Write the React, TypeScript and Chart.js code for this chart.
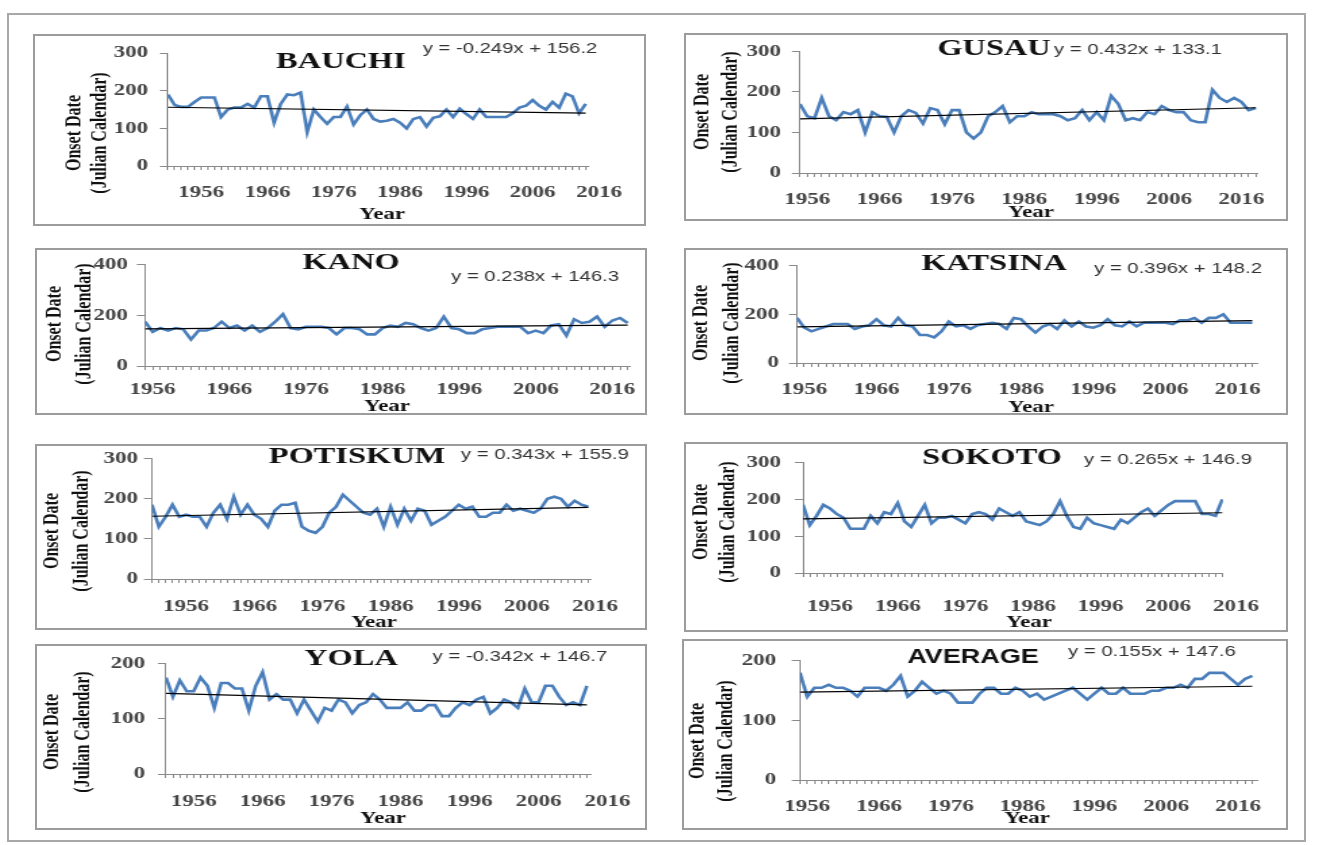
import React, { useEffect, useRef } from 'react';
import { Chart, registerables } from 'chart.js';

Chart.register(...registerables);

// ---------------- data ----------------
const STATIONS = ['BAUCHI', 'GUSAU', 'KANO', 'KATSINA', 'POTISKUM', 'SOKOTO', 'YOLA', 'AVERAGE'];
const FIRST_YEARS = [1951, 1955, 1955, 1955, 1951, 1952, 1952, 1955];
const TREND_SLOPES = [-0.249, 0.432, 0.238, 0.396, 0.343, 0.265, -0.342, 0.155];
const TREND_INTERCEPTS = [156.2, 133.1, 146.3, 148.2, 155.9, 146.9, 146.7, 147.6];
const Y_MAX = [300, 300, 400, 400, 300, 300, 200, 200];
const Y_STEP = [100, 100, 200, 200, 100, 100, 100, 100];
const X_LABEL_YEARS = [1956, 1966, 1976, 1986, 1996, 2006, 2016];
const Y_TITLE_LINES = ['Onset Date', '(Julian Calendar)'];
const X_TITLE = 'Year';

const bauchi = [190, 162, 157, 157, 170, 182, 182, 182, 130, 150, 155, 155, 165, 155, 185, 185, 115, 165, 190, 188, 195, 90, 150, 130, 112, 130, 130, 158, 110, 135, 150, 125, 118, 120, 125, 115, 100, 125, 130, 105, 128, 132, 150, 130, 152, 138, 125, 150, 130, 130, 130, 130, 140, 155, 160, 175, 160, 150, 170, 155, 192, 185, 140, 165];
const gusau = [170, 140, 135, 185, 140, 130, 150, 145, 155, 100, 150, 140, 138, 100, 140, 155, 148, 122, 160, 155, 120, 155, 155, 100, 85, 100, 140, 150, 165, 125, 140, 140, 150, 145, 145, 145, 140, 130, 135, 155, 130, 150, 130, 190, 170, 130, 135, 130, 150, 145, 165, 155, 150, 150, 130, 125, 125, 205, 185, 175, 185, 175, 155, 160];
const kano = [175, 135, 150, 140, 150, 145, 105, 140, 140, 150, 175, 150, 160, 140, 160, 135, 150, 175, 205, 150, 145, 155, 155, 155, 150, 125, 150, 150, 145, 125, 125, 150, 160, 155, 170, 165, 150, 140, 150, 195, 150, 145, 130, 130, 145, 150, 155, 155, 155, 155, 130, 140, 130, 160, 165, 120, 185, 170, 175, 195, 155, 180, 190, 170];
const katsina = [185, 145, 130, 140, 150, 160, 160, 160, 140, 150, 155, 180, 155, 150, 185, 155, 150, 115, 115, 105, 130, 170, 150, 155, 140, 155, 160, 165, 160, 140, 185, 180, 150, 125, 150, 160, 140, 175, 150, 170, 150, 145, 155, 180, 155, 150, 170, 150, 165, 165, 165, 165, 160, 175, 175, 185, 165, 185, 185, 200, 165, 165, 165, 165];
const potiskum = [185, 130, 155, 185, 155, 160, 155, 155, 130, 165, 185, 150, 205, 160, 185, 160, 150, 130, 170, 185, 185, 190, 130, 120, 115, 130, 165, 180, 210, 195, 180, 165, 160, 175, 130, 180, 135, 175, 145, 175, 170, 135, 145, 155, 170, 185, 175, 180, 155, 155, 165, 165, 185, 170, 175, 170, 165, 175, 200, 205, 200, 180, 195, 185, 180];
const sokoto = [185, 130, 155, 185, 175, 160, 150, 120, 120, 120, 155, 135, 165, 160, 190, 140, 125, 155, 185, 135, 150, 150, 155, 145, 135, 160, 165, 160, 145, 175, 165, 155, 165, 140, 135, 130, 140, 160, 195, 155, 125, 120, 150, 135, 130, 125, 120, 145, 135, 150, 165, 175, 155, 170, 185, 195, 195, 195, 195, 160, 160, 155, 200];
const yola = [175, 140, 170, 150, 150, 175, 160, 120, 165, 165, 155, 155, 115, 160, 185, 135, 145, 135, 135, 110, 135, 115, 95, 120, 115, 135, 130, 110, 125, 130, 145, 135, 120, 120, 120, 130, 115, 115, 125, 125, 105, 105, 120, 130, 125, 135, 140, 110, 120, 135, 130, 120, 155, 130, 130, 160, 160, 140, 125, 130, 125, 160];
const average = [180, 140, 155, 155, 160, 155, 155, 150, 140, 155, 155, 155, 150, 160, 175, 140, 150, 165, 155, 145, 150, 145, 130, 130, 130, 145, 155, 155, 145, 145, 155, 150, 140, 145, 135, 140, 145, 150, 155, 145, 135, 145, 155, 145, 145, 155, 145, 145, 145, 150, 150, 155, 155, 160, 155, 170, 170, 180, 180, 180, 170, 160, 170, 175];
const SERIES = [bauchi, gusau, kano, katsina, potiskum, sokoto, yola, average];

// ---------------- layout & style (page pixels) ----------------
const STRETCH = 1.35;
const BLUE = '#4a7ebb';
const AXIS = '#8a8a8a';
const TICK_TEXT = '#454545';

type Layout = {
  box: [number, number, number, number];
  axisL: number; axisR: number; plotTop: number; plotBottom: number; xMax: number;
  yLabelGap: number; xLabelGap: number;
  title: [number, number]; eq: [number, number];
  yTitleX: [number, number]; yTitleY: number; year: [number, number];
  titleFont: string;
};

const SERIF_TITLE = 'bold 24px "Liberation Serif"';
const LAYOUTS: Layout[] = [
  { box: [33, 34, 646, 226], axisL: 168, axisR: 589, plotTop: 52, plotBottom: 166, xMax: 2014.5, yLabelGap: 20, xLabelGap: 27, title: [341, 62], eq: [510, 49], yTitleX: [75, 100], yTitleY: 133, year: [382, 215], titleFont: SERIF_TITLE },
  { box: [684, 33, 1288, 221], axisL: 800, axisR: 1258, plotTop: 41, plotBottom: 173, xMax: 2018.3, yLabelGap: 19, xLabelGap: 27, title: [994, 49], eq: [1138, 50], yTitleX: [703, 731], yTitleY: 112, year: [1031, 213], titleFont: SERIF_TITLE },
  { box: [35, 248, 647, 415], axisL: 145, axisR: 630, plotTop: 256, plotBottom: 366, xMax: 2018.3, yLabelGap: 17, xLabelGap: 24, title: [351, 263], eq: [535, 277], yTitleX: [55, 85], yTitleY: 324, year: [387, 407], titleFont: SERIF_TITLE },
  { box: [684, 248, 1288, 415], axisL: 797, axisR: 1258, plotTop: 256, plotBottom: 363, xMax: 2018.8, yLabelGap: 18, xLabelGap: 27, title: [994, 264], eq: [1178, 269], yTitleX: [701, 732], yTitleY: 323, year: [1031, 408], titleFont: SERIF_TITLE },
  { box: [35, 444, 647, 630], axisL: 152, axisR: 591, plotTop: 450, plotBottom: 579, xMax: 2015.4, yLabelGap: 14, xLabelGap: 28, title: [357, 457], eq: [545, 455], yTitleX: [53, 82], yTitleY: 531, year: [374, 623], titleFont: SERIF_TITLE },
  { box: [684, 442, 1288, 632], axisL: 803, axisR: 1223, plotTop: 450, plotBottom: 573, xMax: 2014.1, yLabelGap: 22, xLabelGap: 34, title: [992, 458], eq: [1168, 460], yTitleX: [701, 729], yTitleY: 522, year: [1029, 623], titleFont: SERIF_TITLE },
  { box: [35, 644, 647, 830], axisL: 166, axisR: 591, plotTop: 650, plotBottom: 774, xMax: 2013.6, yLabelGap: 21, xLabelGap: 28, title: [351, 659], eq: [520, 657], yTitleX: [53, 83], yTitleY: 732, year: [383, 819], titleFont: SERIF_TITLE },
  { box: [682, 639, 1288, 830], axisL: 800, axisR: 1257, plotTop: 659, plotBottom: 780, xMax: 2018.65, yLabelGap: 24, xLabelGap: 27, title: [973, 657], eq: [1152, 652], yTitleX: [698, 727], yTitleY: 741, year: [1027, 819], titleFont: 'bold 20px "Liberation Sans"' },
];

function equationText(i: number) {
  return `y = ${TREND_SLOPES[i].toFixed(3)}x + ${TREND_INTERCEPTS[i].toFixed(1)}`;
}

function Panel({ idx }: { idx: number }) {
  const ref = useRef<HTMLCanvasElement>(null);
  const L = LAYOUTS[idx];
  const [l, t, r, b] = L.box;
  const cw = Math.round((r - l) / STRETCH);
  const ch = b - t;
  const sx = (r - l) / cw;

  useEffect(() => {
    const values = SERIES[idx];
    const first = FIRST_YEARS[idx];
    const n = values.length;
    const points = values.map((v, i) => ({ x: first + i, y: v }));
    const slope = TREND_SLOPES[idx];
    const icpt = TREND_INTERCEPTS[idx];
    const trend = [
      { x: first, y: slope * 1 + icpt },
      { x: first + n - 1, y: slope * n + icpt },
    ];
    const xMin = first;
    const xMax = L.xMax;
    const px = (X: number) => (X - l) / sx;
    const py = (Y: number) => Y - t;
    const tickFont = { family: '"Liberation Serif"', size: 17, weight: 'bold' as const };

    const textPlugin = {
      id: 'panelText',
      afterDraw(chart: any) {
        const c = chart.ctx as CanvasRenderingContext2D;
        c.save();
        c.textAlign = 'center';
        c.textBaseline = 'middle';
        c.fillStyle = '#111';
        c.font = L.titleFont;
        c.fillText(STATIONS[idx], px(L.title[0]), py(L.title[1]));
        c.fillStyle = '#333';
        c.font = '15px "Liberation Sans"';
        c.fillText(equationText(idx), px(L.eq[0]), py(L.eq[1]));
        c.fillStyle = '#111';
        c.font = 'bold 17px "Liberation Serif"';
        c.fillText(X_TITLE, px(L.year[0]), py(L.year[1]));
        c.font = 'bold 16px "Liberation Serif"';
        Y_TITLE_LINES.forEach((line, k) => {
          c.save();
          c.translate(px(L.yTitleX[k]), py(L.yTitleY));
          c.rotate(-Math.PI / 2);
          c.fillText(line, 0, 0);
          c.restore();
        });
        c.restore();
      },
    };

    const chart = new Chart(ref.current as HTMLCanvasElement, {
      type: 'line',
      data: {
        datasets: [
          { data: points, borderColor: BLUE, backgroundColor: BLUE, borderWidth: 2.6, pointRadius: 0, tension: 0, fill: false, order: 2 },
          { data: trend, borderColor: '#000', backgroundColor: '#000', borderWidth: 1.2, pointRadius: 0, fill: false, order: 1 },
        ],
      },
      options: {
        responsive: false,
        maintainAspectRatio: false,
        animation: false,
        events: [],
        layout: {
          autoPadding: false,
          padding: { left: 0, top: L.plotTop - t, right: (r - L.axisR) / sx, bottom: 0 },
        },
        plugins: { legend: { display: false }, tooltip: { enabled: false }, title: { display: false } },
        scales: {
          x: {
            type: 'linear',
            min: xMin,
            max: xMax,
            afterFit: (s: any) => { s.height = b - L.plotBottom; },
            afterBuildTicks: (s: any) => {
              const ticks: { value: number }[] = [];
              for (let y = Math.ceil(xMin); y <= Math.floor(xMax); y++) ticks.push({ value: y });
              X_LABEL_YEARS.forEach((yy) => { if (yy > xMax || yy < xMin) ticks.push({ value: yy }); });
              ticks.sort((a, c) => a.value - c.value);
              s.ticks = ticks;
            },
            grid: {
              display: true,
              drawOnChartArea: false,
              drawTicks: true,
              tickLength: 4,
              tickWidth: 1,
              color: AXIS,
              tickColor: (c: any) => (c.tick && (c.tick.value > xMax + 1e-6 || c.tick.value < xMin - 1e-6) ? 'rgba(0,0,0,0)' : AXIS),
            },
            border: { display: true, color: AXIS, width: 1 },
            ticks: {
              autoSkip: false,
              maxRotation: 0,
              minRotation: 0,
              padding: L.xLabelGap - 4 - 10.2,
              font: tickFont,
              color: TICK_TEXT,
              callback: (v: any) => (X_LABEL_YEARS.includes(Number(v)) ? String(v) : ''),
            },
          },
          y: {
            min: 0,
            max: Y_MAX[idx],
            afterFit: (s: any) => { s.width = (L.axisL - l) / sx; },
            grid: { display: true, drawOnChartArea: false, drawTicks: true, tickLength: 6, tickWidth: 1, color: AXIS, tickColor: AXIS },
            border: { display: true, color: AXIS, width: 1 },
            ticks: {
              stepSize: Y_STEP[idx],
              padding: L.yLabelGap / sx - 6,
              font: tickFont,
              color: TICK_TEXT,
            },
          },
        },
      },
      plugins: [textPlugin],
    } as any);
    return () => chart.destroy();
  }, [idx]);

  return (
    <>
      <div
        style={{
          position: 'absolute', left: l, top: t, width: cw, height: ch,
          transform: `scaleX(${sx})`, transformOrigin: '0 0',
        }}
      >
        <canvas ref={ref} width={cw} height={ch} style={{ width: cw, height: ch, display: 'block' }} />
      </div>
      <div
        style={{
          position: 'absolute', left: l, top: t, width: r - l, height: b - t,
          border: '2px solid #9c9c9c', boxSizing: 'border-box', pointerEvents: 'none',
        }}
      />
    </>
  );
}

export default function App() {
  return (
    <div style={{ position: 'absolute', left: 0, top: 0, width: 1317, height: 845, background: '#fff', overflow: 'hidden' }}>
      <div
        style={{
          position: 'absolute', left: 7, top: 13, width: 1299, height: 829,
          border: '2px solid #a8a8a8', boxSizing: 'border-box',
        }}
      />
      {STATIONS.map((_, i) => (
        <Panel key={i} idx={i} />
      ))}
    </div>
  );
}
